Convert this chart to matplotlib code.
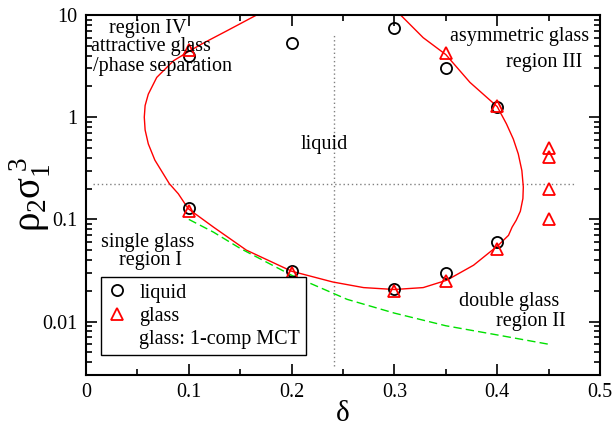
import matplotlib
matplotlib.use("Agg")
import matplotlib.pyplot as plt
from matplotlib.lines import Line2D
from matplotlib.ticker import FixedLocator, FixedFormatter, LogLocator, NullFormatter

plt.rcParams['font.family'] = ['Liberation Serif', 'DejaVu Serif']
# letras gregas em pe, como no original
plt.rcParams['mathtext.fontset'] = 'custom'
plt.rcParams['mathtext.rm'] = 'Liberation Serif'
plt.rcParams['mathtext.it'] = 'Liberation Serif'
plt.rcParams['mathtext.bf'] = 'Liberation Serif:bold'

# pontos simulados: liquido (circulos) e vidro (triangulos)
liq_delta = [0.1, 0.1, 0.2, 0.2, 0.3, 0.3, 0.35, 0.35, 0.4, 0.4]
liq_rho = [4.0, 0.13, 5.3, 0.031, 7.5, 0.021, 3.0, 0.030, 1.25, 0.060]

glass_delta = [0.1, 0.1, 0.2, 0.3, 0.35, 0.35, 0.4, 0.4, 0.45, 0.45, 0.45, 0.45]
glass_rho = [4.5, 0.12, 0.030, 0.020, 4.2, 0.025, 1.3, 0.051, 0.50, 0.41, 0.20, 0.10]

# linha de transicao (vermelha)
curva_delta = [0.306, 0.328, 0.350, 0.3735, 0.400, 0.409, 0.4157, 0.4205, 0.4240, 0.4254,
               0.4250, 0.4225, 0.4185, 0.4145, 0.411, 0.401, 0.377, 0.351, 0.328, 0.300,
               0.270, 0.240, 0.200, 0.156, 0.124, 0.0995, 0.0898, 0.081, 0.067, 0.0606,
               0.0575, 0.0567, 0.0575, 0.0606, 0.0688, 0.085, 0.100, 0.1125, 0.137, 0.166]
curva_rho = [10.0, 6.0, 4.1, 2.19, 1.27, 0.86, 0.61, 0.437, 0.30, 0.207,
             0.16, 0.12, 0.098, 0.084, 0.0698, 0.0557, 0.0356, 0.0254, 0.0215, 0.0206,
             0.0215, 0.0244, 0.0311, 0.050, 0.084, 0.127, 0.178, 0.224, 0.38, 0.548,
             0.75, 1.0, 1.3, 1.68, 2.45, 3.56, 4.4, 5.2, 7.0, 10.0]

# MCT de um componente (verde tracejado)
mct_delta = [0.1, 0.124, 0.15, 0.2, 0.254, 0.3, 0.35, 0.4, 0.45]
mct_rho = [0.1, 0.075, 0.052, 0.0284, 0.0165, 0.0121, 0.0091, 0.0074, 0.0060]

# linhas pontilhadas de referencia
vert_delta = [0.241, 0.241]
vert_rho = [0.0037, 6.5]
horiz_delta = [0.007, 0.477]
horiz_rho = [0.22, 0.22]

xticks = [0, 0.1, 0.2, 0.3, 0.4, 0.5]
xtick_labels = ['0', '0.1', '0.2', '0.3', '0.4', '0.5']
yticks = [0.01, 0.1, 1, 10]
ytick_labels = ['0.01', '0.1', '1', '10']

textos = [
    ("region IV", 0.060, 7.3),
    ("attractive glass", 0.063, 4.95),
    ("/phase separation", 0.074, 3.1),
    ("liquid", 0.2315, 0.54),
    ("asymmetric glass", 0.422, 6.2),
    ("region III", 0.446, 3.4),
    ("single glass", 0.0603, 0.060),
    ("region I", 0.063, 0.0398),
    ("double glass", 0.412, 0.0156),
    ("region II", 0.433, 0.0100),
]

fig = plt.figure(figsize=(6.14, 4.30), dpi=100)
ax = fig.add_axes([86/614, 55/430, 514/614, 360/430])

ax.plot(vert_delta, vert_rho, color='gray', lw=1, ls=(0, (1, 2)))
ax.plot(horiz_delta, horiz_rho, color='gray', lw=1, ls=(0, (1, 2)))
ax.plot(curva_delta, curva_rho, color='red', lw=1)
ax.plot(mct_delta, mct_rho, color='#00e000', lw=1, ls=(0, (6, 3)))

h_liq, = ax.plot(liq_delta, liq_rho, ls='none', marker='o', ms=8, mfc='none',
                 mec='black', mew=1.3)
h_glass, = ax.plot(glass_delta, glass_rho, ls='none', marker='^', ms=9, mfc='none',
                   mec='red', mew=1.3)

for txt, x, y in textos:
    ax.text(x, y, txt, ha='center', va='center', fontsize=14.5)

ax.set_yscale('log')
ax.set_xlim(0, 0.5)
ax.set_ylim(0.003, 10)

ax.xaxis.set_major_locator(FixedLocator(xticks))
ax.xaxis.set_major_formatter(FixedFormatter(xtick_labels))
ax.xaxis.set_minor_locator(FixedLocator([0.05, 0.15, 0.25, 0.35, 0.45]))
ax.yaxis.set_major_locator(FixedLocator(yticks))
ax.yaxis.set_major_formatter(FixedFormatter(ytick_labels))
ax.yaxis.set_minor_locator(LogLocator(base=10, subs=range(2, 10)))
ax.yaxis.set_minor_formatter(NullFormatter())

ax.tick_params(which='both', direction='in', top=True, right=True, labelsize=14.5, width=1.2)
ax.tick_params(which='major', length=8, pad=6)
ax.tick_params(which='minor', length=4)
for s in ax.spines.values():
    s.set_linewidth(1.5)

ax.set_xlabel('δ', fontsize=21)
ax.xaxis.set_label_coords(0.5, -0.072)
ax.set_ylabel(r'$\rho_2\sigma_1^{\,3}$', fontsize=28)
ax.yaxis.set_label_coords(-0.065, 0.5)

vazio = Line2D([], [], color='none')
leg = ax.legend([h_liq, h_glass, vazio], ['liquid', 'glass', 'glass: 1-comp MCT'],
                loc='lower left', bbox_to_anchor=(0.029, 0.056), borderaxespad=0,
                fontsize=14.5, fancybox=False, framealpha=1, edgecolor='black',
                handlelength=1.0, handletextpad=0.6, labelspacing=0.2, borderpad=0.3)
leg.get_frame().set_linewidth(1.0)

fig.savefig("out.png", dpi=100)
